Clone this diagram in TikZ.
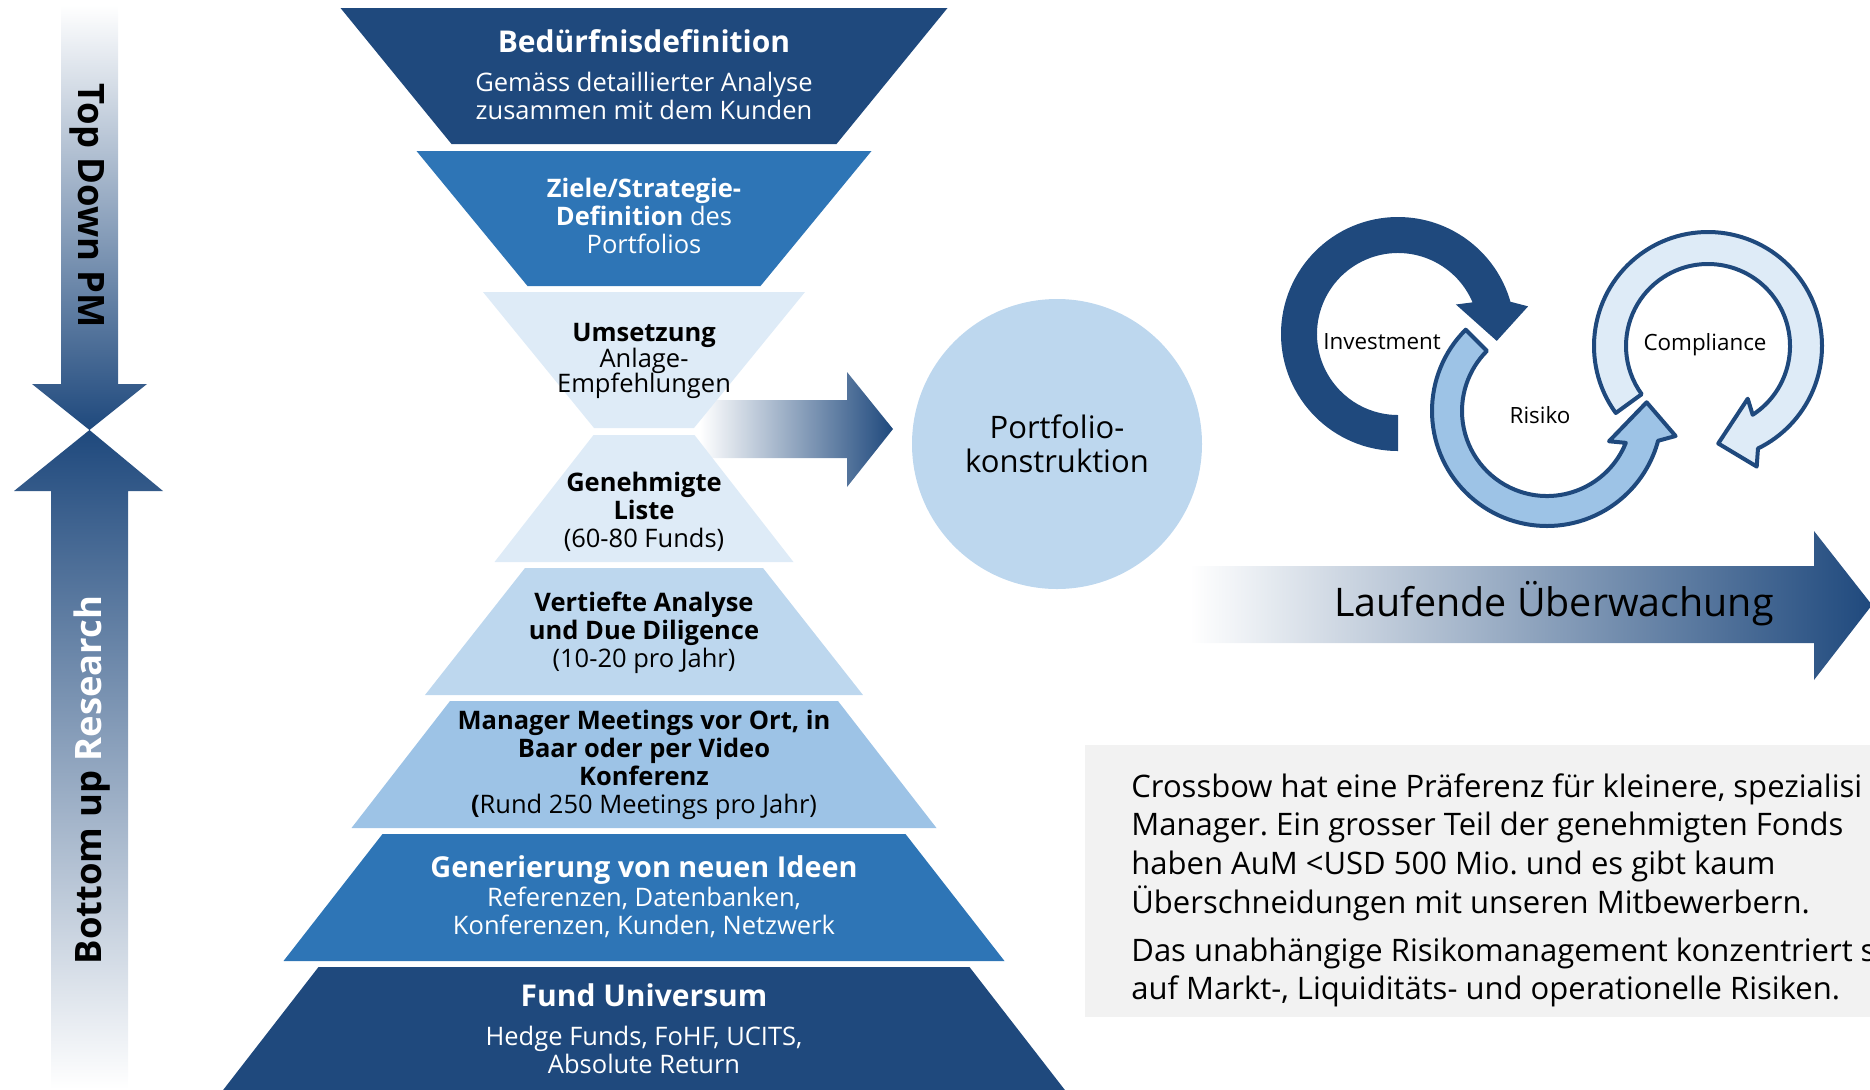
\documentclass[tikz,border=0pt]{standalone}
\usepackage{fontspec}
\setmainfont{Open Sans}

\definecolor{navy}{HTML}{1F497D}
\definecolor{midblue}{HTML}{2E75B6}
\definecolor{paleblue}{HTML}{DEEBF7}
\definecolor{lightblue}{HTML}{BDD7EE}
\definecolor{skyblue}{HTML}{9DC3E6}
\definecolor{boxgray}{HTML}{F2F2F2}

\begin{document}
\frenchspacing
\begin{tikzpicture}[x=0.5pt, y=-0.5pt,
    level/.style={align=center, inner sep=0pt, font=\fontsize{12.75}{14}\selectfont},
    whitetxt/.style={level, text=white},
    blacktxt/.style={level, text=black},
    headline/.style={inner sep=0pt, text=white, font=\fontsize{15}{17}\selectfont\bfseries},
    sidelabel/.style={inner sep=0pt, font=\fontsize{18.2}{20}\selectfont\bfseries},
    cyclelabel/.style={inner sep=0pt, font=\fontsize{11.2}{13}\selectfont},
    cycleline/.style={draw=navy, line width=2pt, line join=round},
    boxtxt/.style={anchor=base west, inner sep=0pt, font=\fontsize{15.5}{19}\selectfont}]

\useasboundingbox (0,0) rectangle (1870,1089);
\clip (0,0) rectangle (1870,1089);

% side arrows: top down and bottom up
\shade[top color=white, bottom color=navy] (61,5) -- (118,5) -- (118,384) -- (147,384)
    -- (89.5,430) -- (32,384) -- (61,384) -- cycle;
\shade[top color=navy, bottom color=white] (89.5,430) -- (163,491) -- (128,491) -- (128,1089)
    -- (51,1089) -- (51,491) -- (14,491) -- cycle;
\node[sidelabel, rotate=-90] (topdown) at (87,206) {Top Down PM};
\node[sidelabel, rotate=90] (bottomup) at (92,780) {Bottom up \textcolor{white}{Research}};

% arrow to the portfolio
\shade[left color=white, right color=navy] (700,400) -- (847,400) -- (847,372) -- (893,429)
    -- (847,487) -- (847,458) -- (700,458) -- cycle;

% hourglass, top half
\fill[navy] (340.5,8) -- (947.5,8) -- (836.5,144) -- (451.5,144) -- cycle;
\fill[midblue] (416.5,151) -- (871.5,151) -- (760.5,286) -- (527.5,286) -- cycle;
\fill[paleblue] (483,292) -- (805,292) -- (694,428) -- (594,428) -- cycle;

% hourglass, bottom half
\fill[paleblue] (593.5,435) -- (694.5,435) -- (793.5,562) -- (494.5,562) -- cycle;
\fill[lightblue] (525,568) -- (763,568) -- (863,695) -- (425,695) -- cycle;
\fill[skyblue] (450,701) -- (838,701) -- (936.5,828) -- (351.5,828) -- cycle;
\fill[midblue] (382.5,834) -- (905.5,834) -- (1004.5,961) -- (283.5,961) -- cycle;
\fill[navy] (318.5,967) -- (969.5,967) -- (1068,1094) -- (220,1094) -- cycle;

\node[headline] (need) at (644,41) {Bedürfnisdefinition};
\node[whitetxt] (needtxt) at (644,96) {Gemäss detaillierter Analyse\\zusammen mit dem Kunden};
\node[whitetxt] (goals) at (644,216) {\textbf{Ziele/Strategie-}\\\textbf{Definition} des\\Portfolios};
\node[blacktxt, font=\fontsize{12.75}{12.9}\selectfont] (impl) at (644,361) {\textbf{Umsetzung}\\Anlage-\\Empfehlungen};
\node[blacktxt] (list) at (644,512) {\textbf{Genehmigte}\\\textbf{Liste}\\(60-80 Funds)};
\node[blacktxt] (dd) at (644,633) {\textbf{Vertiefte Analyse}\\\textbf{und Due Diligence}\\(10-20 pro Jahr)};
\node[blacktxt] (meet) at (644,765) {\textbf{Manager Meetings vor Ort, in}\\\textbf{Baar oder per Video}\\\textbf{Konferenz}\\\textbf{(}Rund 250 Meetings pro Jahr)};
\node[headline, font=\fontsize{14.4}{17}\selectfont\bfseries] (ideas) at (644,870) {Generierung von neuen Ideen};
\node[whitetxt] (ideastxt) at (644,912) {Referenzen, Datenbanken,\\Konferenzen, Kunden, Netzwerk};
\node[headline] (univ) at (644,995) {Fund Universum};
\node[whitetxt] (univtxt) at (644,1050) {Hedge Funds, FoHF, UCITS,\\Absolute Return};

% portfolio circle
\node[circle, fill=lightblue, minimum size=145pt, inner sep=0pt, align=center,
    font=\fontsize{15.5}{16.8}\selectfont] (port) at (1057,444) {Portfolio-\\konstruktion};

% cycle: investment
\begin{scope}[shift={(1398,334)}]
\fill[navy] (-270:117) arc[start angle=-270, end angle=-16, radius=117] -- (-12:133) -- (4:99)
    -- (-27:65) -- (-23:81) arc[start angle=-23, end angle=-270, radius=81] -- cycle;
\end{scope}
% cycle: compliance
\begin{scope}[shift={(1708,346)}]
\filldraw[cycleline, fill=paleblue] (-216:114) arc[start angle=-216, end angle=64, radius=114]
    -- (68:130) -- (84:98) -- (53:66) -- (57:82) arc[start angle=57, end angle=-216, radius=82] -- cycle;
\end{scope}
% cycle: risiko
\begin{scope}[shift={(1547,411)}]
\filldraw[cycleline, fill=skyblue] (-135:115) arc[start angle=-135, end angle=-345, radius=115]
    -- (-349:131) -- (-365:100) -- (-334:69) -- (-338:85) arc[start angle=-338, end angle=-135, radius=85] -- cycle;
\end{scope}
\node[cyclelabel] (inv) at (1382,342) {Investment};
\node[cyclelabel] (risk) at (1540,415) {Risiko};
\node[cyclelabel] (comp) at (1705,345) {Compliance};

% ongoing monitoring
\shade[left color=white, right color=navy] (1190,566) -- (1814,566) -- (1814,531) -- (1872,605)
    -- (1814,680) -- (1814,643) -- (1190,643) -- cycle;
\node[inner sep=0pt, font=\fontsize{19.7}{22}\selectfont] (monitor) at (1554,604) {Laufende Überwachung};

% text box
\fill[boxgray] (1085,745) rectangle (1880,1017);
\foreach \ln/\yy [count=\i] in {{Crossbow hat eine Präferenz für kleinere, spezialisi}/797,
    {Manager. Ein grosser Teil der genehmigten Fonds}/835,
    {haben AuM <USD 500 Mio. und es gibt kaum}/874,
    {Überschneidungen mit unseren Mitbewerbern.}/913,
    {Das unabhängige Risikomanagement konzentriert s}/961,
    {auf Markt-, Liquiditäts- und operationelle Risiken.}/999}
  \node[boxtxt] (line\i) at (1131,\yy) {\ln};

\end{tikzpicture}
\end{document}
